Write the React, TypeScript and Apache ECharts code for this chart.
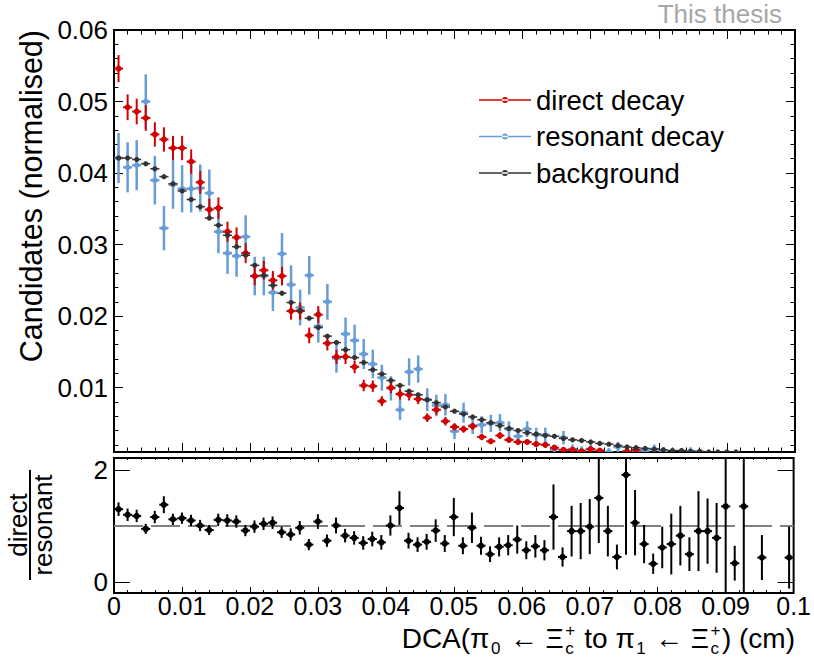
import React, { useEffect, useRef } from 'react';
import * as echarts from 'echarts';

// ---------------- data ----------------
const X_MIN = 0;
const X_MAX = 0.1;
const N_BINS = 75;
const BIN_W = (X_MAX - X_MIN) / N_BINS;

const directDecay = [
  0.0546, 0.0492, 0.0486, 0.0477, 0.0454, 0.0447, 0.0435, 0.0435, 0.0416, 0.0387,
  0.0349, 0.0351, 0.0318, 0.0310, 0.0288, 0.0256, 0.0264, 0.0250, 0.0256, 0.0207,
  0.0207, 0.0173, 0.0202, 0.0162, 0.0143, 0.0143, 0.0129, 0.0103, 0.0102, 0.0081,
  0.0100, 0.0091, 0.0090, 0.0084, 0.0058, 0.0069, 0.0053, 0.0045, 0.0042, 0.0046,
  0.0031, 0.0025, 0.0033, 0.0027, 0.0024, 0.0024, 0.0021, 0.0020, 0.0016, 0.0013,
  0.0013, 0.0011, 0.0014, 0.0012, 0.0009, 0.0008, 0.0011, 0.0013, 0.0008, 0.0005,
  0.0007, 0.0006, 0.0006, 0.0004, 0.0005, 0.0005, 0.0004, 0.0006, 0.0002, 0.0005,
  0.0000, 0.0002, 0.0000, 0.0000, 0.0002,
];
const directErr = [
  0.0019, 0.0018, 0.0018, 0.0018, 0.0017, 0.0017, 0.0017, 0.0017, 0.0017, 0.0016,
  0.0015, 0.0015, 0.0014, 0.0014, 0.0014, 0.0013, 0.0013, 0.0013, 0.0013, 0.0012,
  0.0012, 0.0011, 0.0012, 0.0010, 0.0010, 0.0010, 0.0009, 0.0008, 0.0008, 0.0007,
  0.0008, 0.0008, 0.0008, 0.0007, 0.0006, 0.0007, 0.0006, 0.0005, 0.0005, 0.0005,
  0.00045, 0.0004, 0.00047, 0.00042, 0.0004, 0.0004, 0.00037, 0.00036, 0.00032, 0.00029,
  0.00029, 0.00027, 0.0003, 0.00028, 0.00024, 0.00023, 0.00027, 0.00029, 0.00023, 0.00018,
  0.00021, 0.0002, 0.0002, 0.00016, 0.00018, 0.00018, 0.00016, 0.0002, 0.00011, 0.00018,
  0, 0.00011, 0, 0, 0.00011,
];
const resonantDecay = [
  0.0421, 0.0408, 0.0411, 0.0500, 0.0390, 0.0323, 0.0384, 0.0378, 0.0378, 0.0379,
  0.0372, 0.0318, 0.0288, 0.0284, 0.0311, 0.0256, 0.0256, 0.0233, 0.0287, 0.0244,
  0.0212, 0.0257, 0.0186, 0.0220, 0.0141, 0.0175, 0.0166, 0.0147, 0.0133, 0.0114,
  0.0099, 0.0069, 0.0122, 0.0126, 0.0083, 0.0075, 0.0076, 0.0039, 0.0065, 0.0047,
  0.0048, 0.0050, 0.0051, 0.0042, 0.0032, 0.0042, 0.0034, 0.0034, 0.0014, 0.0030,
  0.0014, 0.0012, 0.0014, 0.0008, 0.0010, 0.0017, 0.0006, 0.0012, 0.0012, 0.0014,
  0.0011, 0.0009, 0.0008, 0.0011, 0.0005, 0.0006, 0.0005, 0.0004, 0.0006, 0.0004,
  0.0003, 0.0005, 0.0003, 0.0002, 0.0004,
];
const resonantErr = [
  0.0035, 0.0035, 0.0035, 0.0038, 0.0034, 0.0031, 0.0034, 0.0033, 0.0033, 0.0033,
  0.0033, 0.0030, 0.0029, 0.0029, 0.0030, 0.0027, 0.0027, 0.0026, 0.0029, 0.0027,
  0.0025, 0.0027, 0.0023, 0.0025, 0.0020, 0.0023, 0.0022, 0.0021, 0.0020, 0.0018,
  0.0017, 0.0014, 0.0019, 0.0019, 0.0016, 0.0015, 0.0015, 0.0011, 0.0014, 0.0012,
  0.0012, 0.0012, 0.0012, 0.0011, 0.0010, 0.0011, 0.0010, 0.0010, 0.00064, 0.00094,
  0.00064, 0.00059, 0.00064, 0.00048, 0.00054, 0.00071, 0.00042, 0.00059, 0.00059, 0.00064,
  0.00057, 0.00051, 0.00048, 0.00057, 0.00038, 0.00042, 0.00038, 0.00034, 0.00042, 0.00034,
  0.0003, 0.00038, 0.0003, 0.00024, 0.00034,
];
const background = [
  0.0421, 0.0421, 0.0419, 0.0413, 0.0406, 0.0395, 0.0385, 0.0375, 0.0363, 0.0353,
  0.0337, 0.0327, 0.0313, 0.0297, 0.0285, 0.0271, 0.0257, 0.0243, 0.0232, 0.0219,
  0.0208, 0.0197, 0.0184, 0.0172, 0.0163, 0.0153, 0.0142, 0.0135, 0.0125, 0.0119,
  0.0110, 0.0103, 0.0095, 0.0090, 0.0083, 0.0079, 0.0073, 0.0067, 0.0063, 0.0059,
  0.0055, 0.0051, 0.0047, 0.0043, 0.0040, 0.0037, 0.0035, 0.0033, 0.0032, 0.0029,
  0.0027, 0.0026, 0.0024, 0.0022, 0.0021, 0.0019, 0.0017, 0.0016, 0.0015, 0.0014,
  0.0013, 0.0012, 0.0012, 0.0011, 0.0011, 0.0010, 0.0010, 0.0010, 0.0010, 0.0009,
  0.0008, 0.0008, 0.0007, 0.0007, 0.0006,
];
const backgroundErr = [
  0.00015, 0.00015, 0.00015, 0.00015, 0.00015, 0.00015, 0.00015, 0.00015, 0.00015, 0.00015,
  0.00015, 0.00015, 0.00015, 0.00015, 0.00015, 0.00015, 0.00015, 0.00015, 0.00015, 0.00015,
  0.00012, 0.00012, 0.00012, 0.00012, 0.00012, 0.00012, 0.00012, 0.00012, 0.00012, 0.00012,
  0.00012, 0.00012, 0.00012, 0.00012, 0.00012, 0.00012, 0.00012, 0.00012, 0.00012, 0.00012,
  0.00008, 0.00008, 0.00008, 0.00008, 0.00008, 0.00008, 0.00008, 0.00008, 0.00008, 0.00008,
  0.00008, 0.00008, 0.00008, 0.00008, 0.00008, 0.00008, 0.00008, 0.00008, 0.00008, 0.00008,
  0.00005, 0.00005, 0.00005, 0.00005, 0.00005, 0.00005, 0.00005, 0.00005, 0.00005, 0.00005,
  0.00005, 0.00005, 0.00005, 0.00005, 0.00005,
];
const ratio = [
  1.30, 1.20, 1.18, 0.95, 1.16, 1.38, 1.12, 1.14, 1.10, 1.01,
  0.93, 1.11, 1.10, 1.08, 0.92, 0.99, 1.04, 1.06, 0.89, 0.85,
  0.97, 0.67, 1.08, 0.74, 1.01, 0.83, 0.79, 0.70, 0.77, 0.71,
  1.01, 1.32, 0.74, 0.67, 0.72, 0.92, 0.69, 1.16, 0.65, 0.97,
  0.65, 0.50, 0.63, 0.66, 0.76, 0.57, 0.64, 0.57, 1.16, 0.45,
  0.91, 0.91, 0.99, 1.50, 0.91, 0.45, 1.91, 1.06, 0.68, 0.33,
  0.62, 0.68, 0.83, 0.50, 0.91, 0.91, 0.79, 1.35, 0.34, 1.35,
  null, 0.44, null, null, 0.44,
];
const ratioErr = [
  0.12, 0.11, 0.11, 0.09, 0.11, 0.15, 0.10, 0.10, 0.10, 0.10,
  0.09, 0.11, 0.11, 0.11, 0.10, 0.11, 0.11, 0.11, 0.10, 0.11,
  0.12, 0.10, 0.13, 0.11, 0.14, 0.12, 0.12, 0.12, 0.13, 0.13,
  0.18, 0.30, 0.14, 0.13, 0.14, 0.20, 0.15, 0.34, 0.15, 0.27,
  0.16, 0.14, 0.17, 0.18, 0.25, 0.16, 0.20, 0.18, 0.58, 0.17,
  0.45, 0.50, 0.49, 0.80, 0.45, 0.22, 1.42, 0.58, 0.34, 0.18,
  0.37, 0.54, 0.53, 0.30, 0.71, 0.58, 0.62, 1.60, 0.31, 1.60,
  null, 0.40, null, null, 0.55,
];

const seriesNames = ['direct decay', 'resonant decay', 'background'];
const yMajorTicks = [0.01, 0.02, 0.03, 0.04, 0.05, 0.06];
const yMinorTicks = [
  0.002, 0.004, 0.006, 0.008, 0.012, 0.014, 0.016, 0.018, 0.022, 0.024, 0.026, 0.028,
  0.032, 0.034, 0.036, 0.038, 0.042, 0.044, 0.046, 0.048, 0.052, 0.054, 0.056, 0.058,
];
const ratioTicks = [0, 2];
const TOP_Y_MIN = 0.001;
const TOP_Y_MAX = 0.06;
const RATIO_Y_MIN = -0.19;
const RATIO_Y_MAX = 2.21;

const yTitle = 'Candidates (normalised)';
const ratioNum = 'direct';
const ratioDen = 'resonant';
const stamp = 'This thesis';
// x-axis title pieces
const xTitleParts: Array<{ t?: string; kind: string; sup?: string; sub?: string }> = [
  { t: 'DCA(π', kind: 'main' },
  { t: '0', kind: 'sub' },
  { t: ' ← Ξ', kind: 'main' },
  { kind: 'both', sup: '+', sub: 'c' },
  { t: ' to π', kind: 'main' },
  { t: '1', kind: 'sub' },
  { t: ' ← Ξ', kind: 'main' },
  { kind: 'both', sup: '+', sub: 'c' },
  { t: ') (cm)', kind: 'main' },
];

// ---------------- style ----------------
const FONT = '"Liberation Sans", Arial, Helvetica, sans-serif';
const RED = '#d20000';
const BLUE = '#679cd6';
const DARK = '#333333';

const binCenter = (i: number) => X_MIN + (i + 0.5) * BIN_W;

function toData(vals: (number | null)[], errs: (number | null)[]) {
  const out: number[][] = [];
  vals.forEach((v, i) => {
    if (v == null) return;
    out.push([binCenter(i), v, (errs[i] as number) || 0]);
  });
  return out;
}

function makeRender(color: string, lw: number, r: number, yMin: number) {
  return (params: any, api: any) => {
    const x = api.value(0);
    const y = api.value(1);
    const e = api.value(2);
    if (isNaN(y) || y < yMin) return null;
    const c = api.coord([x, y]);
    const lo = api.coord([x, y - e]);
    const hi = api.coord([x, y + e]);
    const hw = api.size([BIN_W, 0])[0] / 2;
    return {
      type: 'group',
      children: [
        { type: 'line', shape: { x1: c[0], y1: lo[1], x2: c[0], y2: hi[1] }, style: { stroke: color, lineWidth: lw } },
        { type: 'line', shape: { x1: c[0] - hw, y1: c[1], x2: c[0] + hw, y2: c[1] }, style: { stroke: color, lineWidth: lw } },
        { type: 'circle', shape: { cx: c[0], cy: c[1], r }, style: { fill: color } },
      ],
    };
  };
}

function buildXTitle(): any[] {
  const F = 28;
  const S = 17;
  const canvas = document.createElement('canvas');
  const ctx = canvas.getContext('2d') as CanvasRenderingContext2D;
  const w = (t: string, size: number) => {
    ctx.font = `${size}px ${FONT}`;
    return ctx.measureText(t).width;
  };
  const GAP = 1.5;
  const pieces: any[] = [];
  let total = 0;
  xTitleParts.forEach((p) => {
    if (p.kind === 'main') total += w(p.t as string, F) + GAP;
    else if (p.kind === 'sub') total += w(p.t as string, S) + GAP;
    else total += Math.max(w(p.sup as string, S), w(p.sub as string, S)) + GAP;
  });
  const right = 795;
  const midY = 638;
  let x = right - total + GAP;
  const txt = (t: string, xx: number, yy: number, size: number, lh: number) => ({
    type: 'text',
    x: xx,
    y: yy,
    style: {
      text: t, fontSize: size, lineHeight: lh, fontFamily: FONT, fill: '#000',
      textAlign: 'left', textVerticalAlign: 'middle', align: 'left', verticalAlign: 'middle',
    },
  });
  xTitleParts.forEach((p) => {
    if (p.kind === 'main') {
      pieces.push(txt(p.t as string, x, midY, F, 26));
      x += w(p.t as string, F) + GAP;
    } else if (p.kind === 'sub') {
      pieces.push(txt(p.t as string, x, midY + 10, S, 16));
      x += w(p.t as string, S) + GAP;
    } else {
      pieces.push(txt(p.sup as string, x, midY - 8, S, 15));
      pieces.push(txt(p.sub as string, x, midY + 10, S, 15));
      x += Math.max(w(p.sup as string, S), w(p.sub as string, S)) + GAP;
    }
  });
  return pieces;
}

const LEGEND_ICON = 'path://M0,2.2H52V3.8H0Z M23,3a3,3 0 1,0 6,0a3,3 0 1,0 -6,0Z';

function xAx(grid: number, pos: string, len: number, minorLen: number, labels: boolean) {
  return {
    type: 'value',
    gridIndex: grid,
    position: pos,
    min: X_MIN,
    max: X_MAX,
    interval: 0.01,
    axisLine: { show: false, onZero: false },
    splitLine: { show: false },
    axisTick: { show: true, inside: true, length: len, lineStyle: { color: '#000', width: 1 } },
    minorTick: { show: true, splitNumber: 5, length: minorLen, lineStyle: { color: '#000', width: 1 } },
    axisLabel: labels
      ? {
          show: true,
          margin: 2,
          fontSize: 25,
          lineHeight: 21,
          fontFamily: FONT,
          color: '#000',
          formatter: (v: number) => (v === 0 ? '0' : String(+v.toFixed(2))),
        }
      : { show: false },
  };
}

function yAx(grid: number, pos: string, min: number, max: number, ticks: number[], len: number, labels: boolean, fmt?: (v: number) => string) {
  return {
    type: 'value',
    gridIndex: grid,
    position: pos,
    min,
    max,
    axisLine: { show: false, onZero: false },
    splitLine: { show: false },
    axisTick: { show: true, inside: true, length: len, customValues: ticks, lineStyle: { color: '#000', width: 1 } },
    minorTick: { show: false },
    axisLabel: labels
      ? { show: true, customValues: ticks, margin: 6, fontSize: 26, fontFamily: FONT, color: '#000', formatter: fmt }
      : { show: false },
  };
}

export default function App() {
  const ref = useRef<HTMLDivElement>(null);
  useEffect(() => {
    if (!ref.current) return;
    const chart = echarts.init(ref.current, null, { renderer: 'svg' });

    const graphics: any[] = [
      {
        type: 'text',
        x: 782,
        y: 14,
        style: { text: stamp, fontSize: 26, fontFamily: FONT, fill: '#a6a6a6', textAlign: 'right', textVerticalAlign: 'middle', align: 'right', verticalAlign: 'middle' },
      },
      {
        type: 'text',
        x: 31,
        y: 30,
        rotation: Math.PI / 2,
        style: { text: yTitle, fontSize: 30.5, fontFamily: FONT, fill: '#000', textAlign: 'right', textVerticalAlign: 'middle', align: 'right', verticalAlign: 'middle' },
      },
      {
        type: 'group',
        x: 30,
        y: 525,
        rotation: Math.PI / 2,
        children: [
          { type: 'text', x: 0, y: -12, style: { text: ratioNum, fontSize: 26, lineHeight: 22, fontFamily: FONT, fill: '#000', textAlign: 'center', textVerticalAlign: 'middle', align: 'center', verticalAlign: 'middle' } },
          { type: 'line', shape: { x1: -55, y1: 0, x2: 55, y2: 0 }, style: { stroke: '#000', lineWidth: 2 } },
          { type: 'text', x: 0, y: 13, style: { text: ratioDen, fontSize: 26, lineHeight: 22, fontFamily: FONT, fill: '#000', textAlign: 'center', textVerticalAlign: 'middle', align: 'center', verticalAlign: 'middle' } },
        ],
      },
      ...buildXTitle(),
    ];

    const option: any = {
      animation: false,
      backgroundColor: '#fff',
      textStyle: { fontFamily: FONT },
      grid: [
        { left: 114, top: 30, width: 681, height: 422, show: true, borderColor: '#000', borderWidth: 2, backgroundColor: 'transparent' },
        { left: 114, top: 458, width: 681, height: 135, show: true, borderColor: '#000', borderWidth: 2, backgroundColor: 'transparent' },
      ],
      xAxis: [
        xAx(0, 'bottom', 9, 4.5, false),
        xAx(0, 'top', 9, 4.5, false),
        xAx(1, 'bottom', 6, 3, true),
        xAx(1, 'top', 4, 2, false),
      ],
      yAxis: [
        yAx(0, 'left', TOP_Y_MIN, TOP_Y_MAX, yMajorTicks, 9, true, (v: number) => v.toFixed(2)),
        yAx(0, 'left', TOP_Y_MIN, TOP_Y_MAX, yMinorTicks, 4.5, false),
        yAx(0, 'right', TOP_Y_MIN, TOP_Y_MAX, yMajorTicks, 9, false),
        yAx(0, 'right', TOP_Y_MIN, TOP_Y_MAX, yMinorTicks, 4.5, false),
        yAx(1, 'left', RATIO_Y_MIN, RATIO_Y_MAX, ratioTicks, 16, true, (v: number) => String(v)),
        yAx(1, 'right', RATIO_Y_MIN, RATIO_Y_MAX, ratioTicks, 16, false),
      ],
      legend: {
        orient: 'vertical',
        left: 479,
        top: 86,
        padding: 0,
        itemGap: 8.5,
        itemWidth: 52,
        itemHeight: 6,
        selectedMode: false,
        textStyle: { fontSize: 27.5, fontFamily: FONT, color: '#000', lineHeight: 28 },
        data: seriesNames.map((n) => ({ name: n, icon: LEGEND_ICON })),
      },
      graphic: graphics,
      series: [
        {
          name: seriesNames[1],
          type: 'custom',
          xAxisIndex: 0,
          yAxisIndex: 0,
          clip: true,
          itemStyle: { color: BLUE },
          encode: { x: 0, y: 1 },
          renderItem: makeRender(BLUE, 2.5, 2.8, TOP_Y_MIN),
          data: toData(resonantDecay, resonantErr),
        },
        {
          name: seriesNames[0],
          type: 'custom',
          xAxisIndex: 0,
          yAxisIndex: 0,
          clip: true,
          itemStyle: { color: RED },
          encode: { x: 0, y: 1 },
          renderItem: makeRender(RED, 2, 3, TOP_Y_MIN),
          data: toData(directDecay, directErr),
        },
        {
          name: seriesNames[2],
          type: 'custom',
          xAxisIndex: 0,
          yAxisIndex: 0,
          clip: true,
          itemStyle: { color: DARK },
          encode: { x: 0, y: 1 },
          renderItem: makeRender(DARK, 1.5, 2.6, TOP_Y_MIN),
          data: toData(background, backgroundErr),
        },
        {
          name: 'unity',
          type: 'line',
          xAxisIndex: 2,
          yAxisIndex: 4,
          symbol: 'none',
          silent: true,
          lineStyle: { color: '#7f7f7f', width: 2, type: [29, 8] },
          data: [[X_MIN, 1], [X_MAX, 1]],
          z: 1,
        },
        {
          name: 'ratio',
          type: 'custom',
          xAxisIndex: 2,
          yAxisIndex: 4,
          clip: true,
          itemStyle: { color: '#000' },
          encode: { x: 0, y: 1 },
          renderItem: makeRender('#000', 2, 3.2, -10),
          data: toData(ratio, ratioErr),
          z: 3,
        },
      ],
    };
    chart.setOption(option);
    return () => chart.dispose();
  }, []);
  return <div ref={ref} style={{ position: 'absolute', left: 0, top: 0, width: 814, height: 664 }} />;
}
